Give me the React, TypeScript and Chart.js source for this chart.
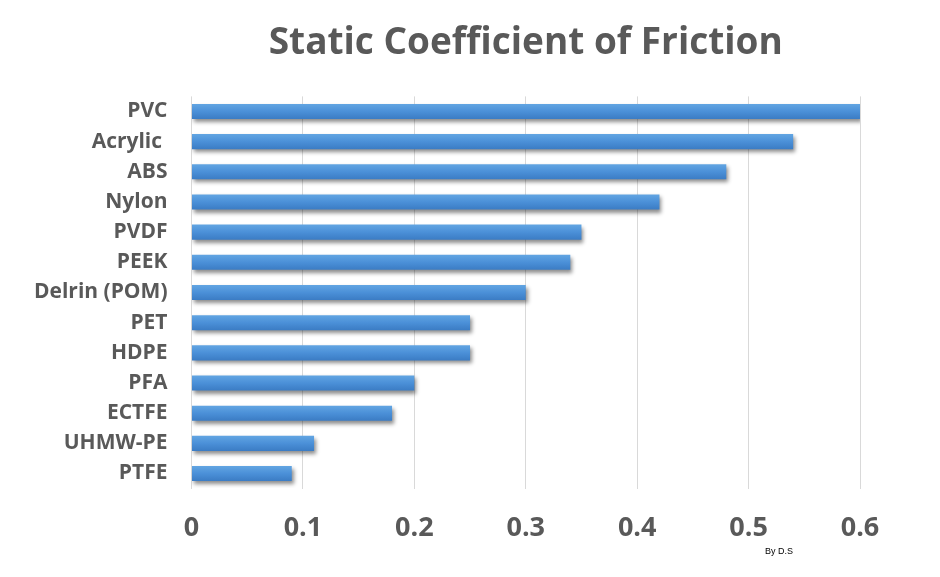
import React, { useEffect, useRef } from 'react';
import { Chart, registerables } from 'chart.js';

Chart.register(...registerables);

const materials = [
  'PVC',
  'Acrylic ',
  'ABS',
  'Nylon',
  'PVDF',
  'PEEK',
  'Delrin (POM)',
  'PET',
  'HDPE',
  'PFA',
  'ECTFE',
  'UHMW-PE',
  'PTFE',
];
const frictionValues = [0.6, 0.54, 0.48, 0.42, 0.35, 0.34, 0.3, 0.25, 0.25, 0.2, 0.18, 0.11, 0.09];
const xTickLabels = ['0', '0.1', '0.2', '0.3', '0.4', '0.5', '0.6'];

const GRAY = '#595959';
const FONT = "'Open Sans', 'DejaVu Sans', sans-serif";

// soft drop shadow under the bars, like the Excel original
const barShadow = {
  id: 'barShadow',
  beforeDatasetsDraw(chart: any) {
    const ctx = chart.ctx;
    ctx.save();
    ctx.shadowColor = 'rgba(0, 0, 0, 0.45)';
    ctx.shadowBlur = 4;
    ctx.shadowOffsetX = 2;
    ctx.shadowOffsetY = 3;
  },
  afterDatasetsDraw(chart: any) {
    chart.ctx.restore();
  },
};

const signature = {
  id: 'signature',
  afterDraw(chart: any) {
    const ctx = chart.ctx;
    const { right, bottom } = chart.chartArea;
    ctx.save();
    ctx.font = "9px 'Liberation Sans', sans-serif";
    ctx.fillStyle = '#000';
    ctx.textAlign = 'left';
    ctx.textBaseline = 'middle';
    ctx.fillText('By D.S', right - 95, bottom + 63);
    ctx.restore();
  },
};

const FrictionChart: React.FC = () => {
  const canvasRef = useRef<HTMLCanvasElement>(null);

  useEffect(() => {
    if (!canvasRef.current) return;
    const chart = new Chart(canvasRef.current, {
      type: 'bar',
      data: {
        labels: materials,
        datasets: [
          {
            label: 'Static Coefficient of Friction',
            data: frictionValues,
            backgroundColor: (c: any) => {
              const y = c.chart.scales?.y;
              if (!y || c.dataIndex === undefined) return '#4a8fd6';
              const mid = y.getPixelForValue(c.dataIndex);
              if (!Number.isFinite(mid)) return '#4a8fd6';
              const g = c.chart.ctx.createLinearGradient(0, mid - 7.5, 0, mid + 7.5);
              g.addColorStop(0, '#62a5e2');
              g.addColorStop(0.5, '#4b90d8');
              g.addColorStop(1, '#3b7cc4');
              return g;
            },
            borderWidth: 0,
            barPercentage: 0.5,
            categoryPercentage: 1,
          },
        ],
      },
      options: {
        indexAxis: 'y',
        animation: false,
        responsive: true,
        maintainAspectRatio: false,
        layout: { padding: { left: 10, right: 80, top: 0, bottom: 8 } },
        plugins: {
          legend: { display: false },
          tooltip: { enabled: false },
          title: {
            display: true,
            text: 'Static Coefficient of Friction',
            color: GRAY,
            font: { family: FONT, size: 37, weight: 'bold' },
            padding: { top: 21, bottom: 31 },
            fullSize: false,
          },
        },
        scales: {
          x: {
            min: 0,
            max: 0.6,
            ticks: {
              stepSize: 0.1,
              color: GRAY,
              padding: 24,
              font: { family: FONT, size: 27, weight: 'bold' },
              callback: (_v: any, i: number) => xTickLabels[i],
            },
            grid: { color: '#d9d9d9', drawTicks: false },
            border: { display: false },
          },
          y: {
            ticks: {
              color: GRAY,
              padding: 24,
              font: { family: FONT, size: 21, weight: 'bold' },
            },
            grid: { display: false, drawTicks: false },
            border: { display: false },
          },
        },
      },
      plugins: [barShadow, signature],
    });
    return () => chart.destroy();
  }, []);

  return (
    <div style={{ position: 'fixed', left: 0, top: 0, width: 940, height: 577, background: '#fff' }}>
      <canvas ref={canvasRef} />
    </div>
  );
};

export default function App() {
  return <FrictionChart />;
}
